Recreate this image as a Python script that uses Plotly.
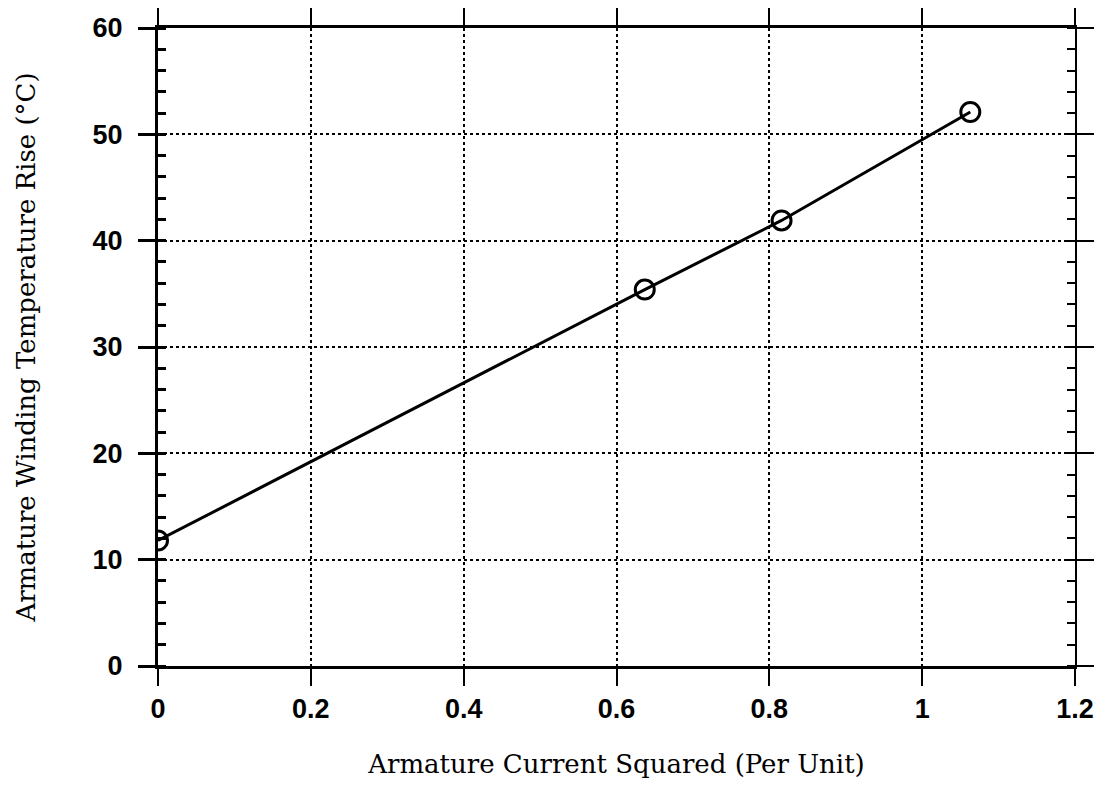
import plotly.graph_objects as go

current_sq = [0.0, 0.637, 0.816, 1.063]
temp_rise = [11.8, 35.4, 41.9, 52.1]

x_ticks = [0, 0.2, 0.4, 0.6, 0.8, 1.0, 1.2]
x_labels = ["0", "0.2", "0.4", "0.6", "0.8", "1", "1.2"]
y_ticks = [0, 10, 20, 30, 40, 50, 60]

tick_font = dict(family="Liberation Sans", size=27, color="black", weight="bold")
title_font = dict(family="DejaVu Serif", size=26, color="black")

fig = go.Figure()
fig.add_trace(go.Scatter(
    x=current_sq, y=temp_rise, mode="lines+markers",
    line=dict(color="black", width=3),
    marker=dict(symbol="circle-open", size=19, color="black", line=dict(width=3)),
    showlegend=False,
))
# invisible trace on right axis so the right-hand axis is drawn
fig.add_trace(go.Scatter(x=current_sq, y=temp_rise, yaxis="y2", mode="lines",
                         line=dict(width=0), hoverinfo="skip", showlegend=False, opacity=0))

fig.update_layout(
    width=1099, height=782,
    margin=dict(l=150, r=32, t=20, b=124, autoexpand=False),
    plot_bgcolor="white", paper_bgcolor="white",
    xaxis=dict(
        range=[0, 1.2], tickvals=x_ticks, ticktext=x_labels, automargin=False,
        showline=True, linecolor="black", linewidth=3, mirror="ticks",
        ticks="outside", ticklen=17, tickwidth=2, tickcolor="black",
        showgrid=True, gridcolor="black", griddash="dot", gridwidth=1.5,
        zeroline=False, tickfont=tick_font,
        title=dict(text="Armature Current Squared (Per Unit)", font=title_font, standoff=32),
    ),
    yaxis=dict(
        range=[0, 60], tickvals=y_ticks, automargin=False,
        showline=True, linecolor="black", linewidth=3, mirror=False,
        ticks="outside", ticklen=17, tickwidth=2.5, tickcolor="black",
        ticklabelstandoff=10,
        minor=dict(ticks="inside", ticklen=8, tickwidth=2.5, tickcolor="black", dtick=2, showgrid=False),
        showgrid=True, gridcolor="black", griddash="dot", gridwidth=1.5,
        zeroline=False, tickfont=tick_font,
        title=dict(text="Armature Winding Temperature Rise (°C)", font=title_font, standoff=50),
    ),
    yaxis2=dict(
        range=[0, 60], tickvals=y_ticks, overlaying="y", side="right", automargin=False,
        showline=True, linecolor="black", linewidth=1.5,
        ticks="outside", ticklen=17, tickwidth=2, tickcolor="black",
        minor=dict(ticks="inside", ticklen=8, tickwidth=2, tickcolor="black", dtick=2, showgrid=False),
        showticklabels=False, showgrid=False, zeroline=False,
    ),
)

fig.write_html("out.html")
